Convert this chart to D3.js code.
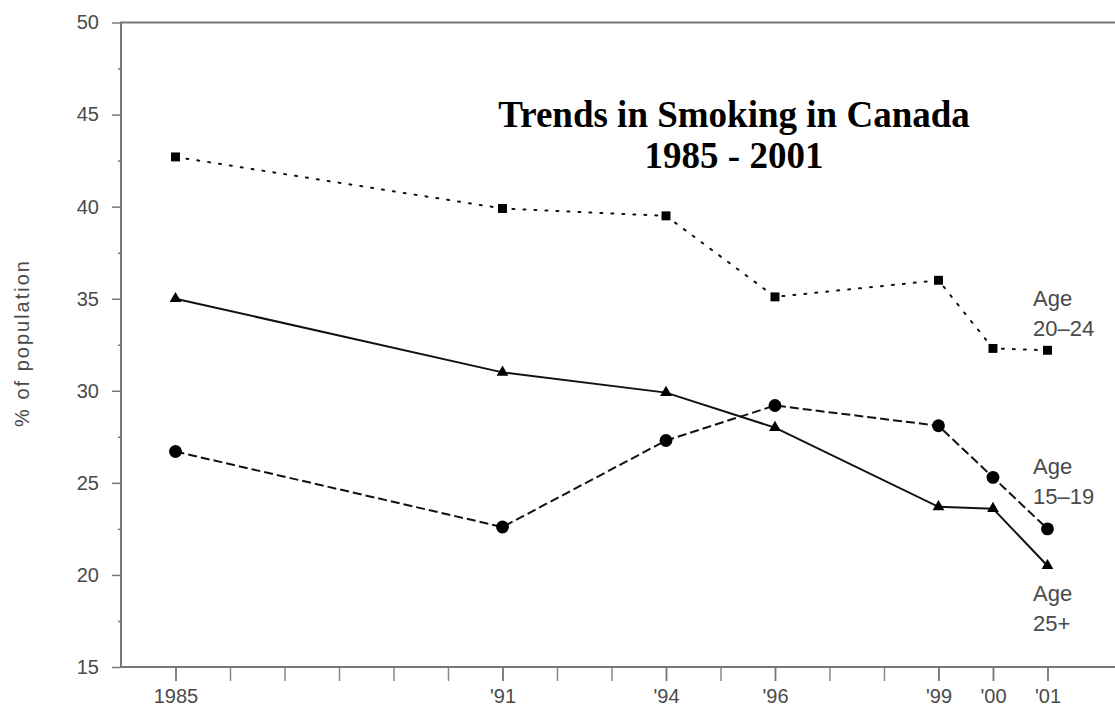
<!DOCTYPE html>
<html>
<head>
<meta charset="utf-8">
<script src="https://cdn.jsdelivr.net/npm/d3@7.9.0/dist/d3.min.js"></script>
<style>
  html, body { margin: 0; padding: 0; background: #fff; }
  svg { display: block; }
  .tick text { font-family: "Liberation Sans", Arial, sans-serif; fill: #4a4a4a; }
</style>
</head>
<body>
<div id="chart"></div>
<script>
// years on the x axis and their printed labels
const years      = [1985, 1991, 1994, 1996, 1999, 2000, 2001];
const yearLabels = ['1985', "'91", "'94", "'96", "'99", "'00", "'01"];

// % of population
const age2024 = [42.7, 39.9, 39.5, 35.1, 36.0, 32.3, 32.2];
const age1519 = [26.7, 22.6, 27.3, 29.2, 28.1, 25.3, 22.5];
const age25p  = [35.0, 31.0, 29.9, 28.0, 23.7, 23.6, 20.5];

const seriesNames = [['Age', '20\u201324'], ['Age', '15\u201319'], ['Age', '25+']];

const width = 1115, height = 707;

const svg = d3.select('#chart')
  .append('svg')
  .attr('width', width)
  .attr('height', height);

// scales
const x = d3.scaleLinear()
  .domain([1984, 2002.25])
  .range([121, 1115.6]);

const y = d3.scaleLinear()
  .domain([15, 50])
  .range([667, 22.5]);

// y axis: major every 5, minor every 2.5
svg.append('g')
  .attr('transform', 'translate(121,0)')
  .call(d3.axisLeft(y).tickValues(d3.range(17.5, 50, 5)).tickSize(3).tickFormat(''))
  .call(g => g.select('.domain').remove())
  .selectAll('line').attr('stroke', '#777').attr('stroke-width', 1.5);

svg.append('g')
  .attr('transform', 'translate(121,0)')
  .call(d3.axisLeft(y).tickValues(d3.range(15, 51, 5)).tickSize(9).tickPadding(13))
  .call(g => g.select('.domain').remove())
  .call(g => g.selectAll('text').attr('font-size', 20))
  .selectAll('line').attr('stroke', '#777').attr('stroke-width', 1.5);

// x axis: tick every year, labels on survey years
svg.append('g')
  .attr('transform', 'translate(0,667)')
  .call(d3.axisBottom(x).tickValues(d3.range(1985, 2002)).tickSize(14).tickFormat(''))
  .call(g => g.select('.domain').remove())
  .selectAll('line').attr('stroke', '#888').attr('stroke-width', 1.5);

svg.append('g')
  .attr('transform', 'translate(0,667)')
  .call(d3.axisBottom(x).tickValues(years).tickSize(14).tickPadding(8)
    .tickFormat((d, i) => yearLabels[i]))
  .call(g => g.select('.domain').remove())
  .call(g => g.selectAll('text').attr('font-size', 20))
  .selectAll('line').attr('stroke', '#777').attr('stroke-width', 1.5);

// frame: left, top, bottom
svg.append('path')
  .attr('d', `M${width},${y(50)}H${x.range()[0]}V${y(15)}H${width}`)
  .attr('fill', 'none')
  .attr('stroke', '#777')
  .attr('stroke-width', 2);

// y label
svg.append('text')
  .attr('transform', `translate(29,343) rotate(-90)`)
  .attr('text-anchor', 'middle')
  .attr('font-family', '"Liberation Sans", Arial, sans-serif')
  .attr('font-size', 20)
  .attr('letter-spacing', 2)
  .attr('fill', '#4a4a4a')
  .text('% of population');

// title
const title = svg.append('text')
  .attr('text-anchor', 'middle')
  .attr('font-family', '"Liberation Serif", "Times New Roman", serif')
  .attr('font-weight', 'bold')
  .attr('font-size', 37)
  .attr('fill', '#000');
title.append('tspan').attr('x', 734).attr('y', 127).text('Trends in Smoking in Canada');
title.append('tspan').attr('x', 734).attr('y', 168).text('1985 - 2001');

const line = d3.line()
  .x((d, i) => x(years[i]))
  .y(d => y(d));

const series = [
  { values: age2024, dash: '2,9',  cap: 'round', marker: 'square' },
  { values: age1519, dash: '9,4',  cap: 'butt',  marker: 'circle' },
  { values: age25p,  dash: null,   cap: 'butt',  marker: 'triangle' },
];

series.forEach(s => {
  svg.append('path')
    .datum(s.values)
    .attr('d', line)
    .attr('fill', 'none')
    .attr('stroke', '#111')
    .attr('stroke-width', 2)
    .attr('stroke-linecap', s.cap)
    .attr('stroke-dasharray', s.dash);

  const sym = s.marker === 'square' ? d3.symbolSquare
            : s.marker === 'circle' ? d3.symbolCircle
            : d3.symbolTriangle;
  const size = s.marker === 'square' ? 80 : s.marker === 'circle' ? 130 : 60;

  svg.append('g')
    .selectAll('path')
    .data(s.values)
    .join('path')
    .attr('transform', (d, i) => `translate(${x(years[i])},${y(d)})`)
    .attr('d', d3.symbol().type(sym).size(size))
    .attr('fill', '#000');
});

// series labels at the right end (first-line baseline, in % units)
const labelAt = [34.6, 25.5, 18.6];
seriesNames.forEach((lines, k) => {
  const t = svg.append('text')
    .attr('font-family', '"Liberation Sans", Arial, sans-serif')
    .attr('font-size', 22)
    .attr('fill', '#4a4a4a');
  lines.forEach((s, j) => {
    t.append('tspan')
      .attr('x', 1033)
      .attr('y', y(labelAt[k]) + j * 30)
      .text(s);
  });
});
</script>
</body>
</html>
